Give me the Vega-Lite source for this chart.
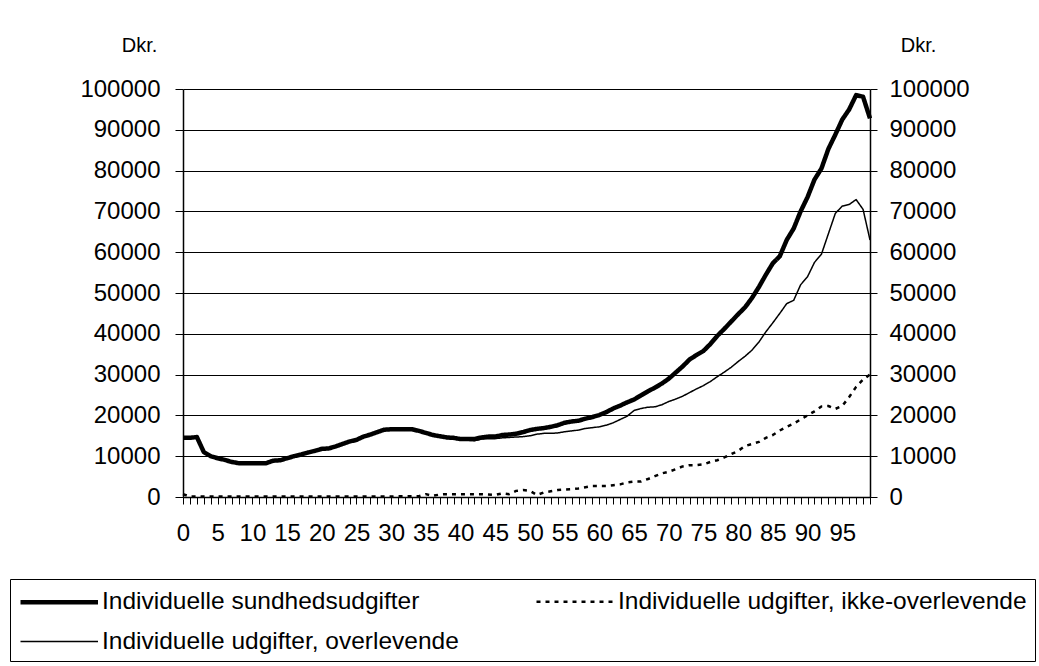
{
"$schema": "https://vega.github.io/schema/vega-lite/v6.json",
"width": 687, "height": 408,
"autosize": "none",
"padding": {"left": 183, "top": 89, "right": 169, "bottom": 169},
"background": "white",
"config": {"view": {"stroke": null}, "font": "Liberation Sans", "axis": {"domainColor": "black", "tickColor": "black", "labelColor": "black", "titleColor": "black", "domainWidth": 1.5, "tickWidth": 1},
"legend": {"title": null, "orient": "none", "legendX": -173, "legendY": 490, "direction": "horizontal", "columns": 2, "gridAlign": "each", "columnPadding": 72, "rowPadding": 14, "symbolType": "M-1,0H5.2", "symbolSize": 625, "symbolStrokeColor": "black", "labelOffset": 54, "labelFontSize": 24.5, "labelColor": "black", "labelLimit": 0, "strokeColor": "black", "padding": 8}},
"data": {"values": [
{"age":0,"total":14500,"surv":14400,"nonsurv":700},
{"age":1,"total":14500,"surv":14500,"nonsurv":100},
{"age":2,"total":14700,"surv":14700,"nonsurv":100},
{"age":3,"total":11000,"surv":11000,"nonsurv":100},
{"age":4,"total":10000,"surv":10000,"nonsurv":100},
{"age":5,"total":9500,"surv":9500,"nonsurv":100},
{"age":6,"total":9100,"surv":9100,"nonsurv":100},
{"age":7,"total":8600,"surv":8600,"nonsurv":100},
{"age":8,"total":8300,"surv":8300,"nonsurv":100},
{"age":9,"total":8300,"surv":8300,"nonsurv":100},
{"age":10,"total":8300,"surv":8300,"nonsurv":100},
{"age":11,"total":8300,"surv":8300,"nonsurv":100},
{"age":12,"total":8300,"surv":8300,"nonsurv":100},
{"age":13,"total":8900,"surv":8900,"nonsurv":100},
{"age":14,"total":9000,"surv":9000,"nonsurv":100},
{"age":15,"total":9500,"surv":9500,"nonsurv":100},
{"age":16,"total":10000,"surv":10000,"nonsurv":100},
{"age":17,"total":10400,"surv":10400,"nonsurv":100},
{"age":18,"total":10900,"surv":10900,"nonsurv":100},
{"age":19,"total":11300,"surv":11300,"nonsurv":100},
{"age":20,"total":11800,"surv":11800,"nonsurv":100},
{"age":21,"total":11900,"surv":11900,"nonsurv":100},
{"age":22,"total":12400,"surv":12400,"nonsurv":100},
{"age":23,"total":13000,"surv":13000,"nonsurv":100},
{"age":24,"total":13600,"surv":13600,"nonsurv":100},
{"age":25,"total":14000,"surv":14000,"nonsurv":100},
{"age":26,"total":14800,"surv":14800,"nonsurv":100},
{"age":27,"total":15300,"surv":15300,"nonsurv":100},
{"age":28,"total":15900,"surv":15900,"nonsurv":100},
{"age":29,"total":16500,"surv":16500,"nonsurv":100},
{"age":30,"total":16600,"surv":16600,"nonsurv":100},
{"age":31,"total":16600,"surv":16600,"nonsurv":200},
{"age":32,"total":16600,"surv":16600,"nonsurv":200},
{"age":33,"total":16600,"surv":16500,"nonsurv":200},
{"age":34,"total":16200,"surv":16100,"nonsurv":200},
{"age":35,"total":15700,"surv":15600,"nonsurv":700},
{"age":36,"total":15200,"surv":15100,"nonsurv":300},
{"age":37,"total":14900,"surv":14700,"nonsurv":600},
{"age":38,"total":14600,"surv":14400,"nonsurv":700},
{"age":39,"total":14500,"surv":14200,"nonsurv":700},
{"age":40,"total":14200,"surv":14000,"nonsurv":700},
{"age":41,"total":14200,"surv":13900,"nonsurv":700},
{"age":42,"total":14200,"surv":13800,"nonsurv":700},
{"age":43,"total":14600,"surv":14200,"nonsurv":700},
{"age":44,"total":14800,"surv":14300,"nonsurv":600},
{"age":45,"total":14800,"surv":14300,"nonsurv":500},
{"age":46,"total":15200,"surv":14500,"nonsurv":900},
{"age":47,"total":15300,"surv":14600,"nonsurv":700},
{"age":48,"total":15500,"surv":14700,"nonsurv":1500},
{"age":49,"total":15900,"surv":14800,"nonsurv":1700},
{"age":50,"total":16400,"surv":15000,"nonsurv":1500},
{"age":51,"total":16700,"surv":15400,"nonsurv":500},
{"age":52,"total":16900,"surv":15600,"nonsurv":1100},
{"age":53,"total":17200,"surv":15600,"nonsurv":1400},
{"age":54,"total":17600,"surv":15700,"nonsurv":1700},
{"age":55,"total":18200,"surv":16000,"nonsurv":1800},
{"age":56,"total":18500,"surv":16200,"nonsurv":1900},
{"age":57,"total":18700,"surv":16400,"nonsurv":2100},
{"age":58,"total":19200,"surv":16800,"nonsurv":2400},
{"age":59,"total":19600,"surv":17000,"nonsurv":2700},
{"age":60,"total":20100,"surv":17200,"nonsurv":2700},
{"age":61,"total":20800,"surv":17600,"nonsurv":2700},
{"age":62,"total":21700,"surv":18200,"nonsurv":2900},
{"age":63,"total":22400,"surv":19000,"nonsurv":3100},
{"age":64,"total":23200,"surv":19800,"nonsurv":3600},
{"age":65,"total":23900,"surv":21200,"nonsurv":3800},
{"age":66,"total":24900,"surv":21700,"nonsurv":3800},
{"age":67,"total":25900,"surv":22000,"nonsurv":4400},
{"age":68,"total":26800,"surv":22100,"nonsurv":5100},
{"age":69,"total":27800,"surv":22600,"nonsurv":5800},
{"age":70,"total":29000,"surv":23400,"nonsurv":6200},
{"age":71,"total":30500,"surv":24000,"nonsurv":6800},
{"age":72,"total":32000,"surv":24700,"nonsurv":7500},
{"age":73,"total":33700,"surv":25600,"nonsurv":7800},
{"age":74,"total":34800,"surv":26500,"nonsurv":7800},
{"age":75,"total":35800,"surv":27300,"nonsurv":8000},
{"age":76,"total":37500,"surv":28300,"nonsurv":8600},
{"age":77,"total":39500,"surv":29500,"nonsurv":9000},
{"age":78,"total":41200,"surv":30600,"nonsurv":9700},
{"age":79,"total":43000,"surv":31800,"nonsurv":10500},
{"age":80,"total":44800,"surv":33200,"nonsurv":11300},
{"age":81,"total":46500,"surv":34500,"nonsurv":12500},
{"age":82,"total":48800,"surv":36000,"nonsurv":13000},
{"age":83,"total":51500,"surv":38000,"nonsurv":13500},
{"age":84,"total":54500,"surv":40500,"nonsurv":14500},
{"age":85,"total":57300,"surv":42700,"nonsurv":15200},
{"age":86,"total":59000,"surv":45000,"nonsurv":16300},
{"age":87,"total":63000,"surv":47400,"nonsurv":17200},
{"age":88,"total":65800,"surv":48200,"nonsurv":18000},
{"age":89,"total":70000,"surv":52000,"nonsurv":19000},
{"age":90,"total":73500,"surv":54000,"nonsurv":20000},
{"age":91,"total":77800,"surv":57500,"nonsurv":21000},
{"age":92,"total":80500,"surv":59500,"nonsurv":22200},
{"age":93,"total":85300,"surv":64500,"nonsurv":22300},
{"age":94,"total":88800,"surv":69500,"nonsurv":21600},
{"age":95,"total":92500,"surv":71300,"nonsurv":22300},
{"age":96,"total":95000,"surv":71700,"nonsurv":24500},
{"age":97,"total":98500,"surv":72900,"nonsurv":27000},
{"age":98,"total":98100,"surv":70500,"nonsurv":28800},
{"age":99,"total":92800,"surv":63000,"nonsurv":30000}
]},
"transform": [{"fold": ["total", "nonsurv", "surv"], "as": ["series", "value"]}],
"layer": [
{
"transform": [{"filter": "datum.series !== 'nonsurv'"}],
"mark": {"type": "line", "color": "black", "strokeJoin": "round", "strokeCap": "butt"},
"encoding": {
"x": {"field": "age", "type": "quantitative", "scale": {"domain": [0, 99], "nice": false, "zero": false},
"axis": {"values": [0,1,2,3,4,5,6,7,8,9,10,11,12,13,14,15,16,17,18,19,20,21,22,23,24,25,26,27,28,29,30,31,32,33,34,35,36,37,38,39,40,41,42,43,44,45,46,47,48,49,50,51,52,53,54,55,56,57,58,59,60,61,62,63,64,65,66,67,68,69,70,71,72,73,74,75,76,77,78,79,80,81,82,83,84,85,86,87,88,89,90,91,92,93,94,95,96,97,98,99], "format": "d", "labelExpr": "datum.value % 5 === 0 ? datum.label : ''", "grid": false, "tickSize": 7, "labelPadding": 17, "labelFontSize": 24, "labelOverlap": false, "labelFlush": false, "labelBound": false, "title": null}},
"y": {"field": "value", "type": "quantitative", "scale": {"domain": [0, 100000], "nice": false},
"axis": {"orient": "left", "values": [0,10000,20000,30000,40000,50000,60000,70000,80000,90000,100000], "format": "d", "grid": true, "gridColor": "black", "gridWidth": 1, "tickSize": 8, "labelPadding": 15, "labelFontSize": 24, "title": "Dkr.", "titleAngle": 0, "titleAlign": "center", "titleBaseline": "middle", "titleX": -44, "titleY": -44, "titleFontSize": 20, "titleFontWeight": "normal"}},
"strokeDash": {"field": "series", "type": "nominal", "scale": {"domain": ["total", "nonsurv", "surv"], "range": [[1, 0], [4, 5], [1, 0]]},
"legend": {"labelExpr": "datum.value === 'total' ? 'Individuelle sundhedsudgifter' : datum.value === 'nonsurv' ? 'Individuelle udgifter, ikke-overlevende' : 'Individuelle udgifter, overlevende'"}},
"strokeWidth": {"field": "series", "type": "nominal", "scale": {"type": "ordinal", "domain": ["total", "nonsurv", "surv"], "range": [4.5, 2.5, 1.5]},
"legend": {"labelExpr": "datum.value === 'total' ? 'Individuelle sundhedsudgifter' : datum.value === 'nonsurv' ? 'Individuelle udgifter, ikke-overlevende' : 'Individuelle udgifter, overlevende'"}}
}
},
{
"transform": [{"filter": "datum.series === 'nonsurv'"}],
"mark": {"type": "line", "color": "black", "strokeJoin": "round", "strokeCap": "butt"},
"encoding": {
"x": {"field": "age", "type": "quantitative", "scale": {"domain": [0, 99], "nice": false, "zero": false},
"axis": {"values": [0,1,2,3,4,5,6,7,8,9,10,11,12,13,14,15,16,17,18,19,20,21,22,23,24,25,26,27,28,29,30,31,32,33,34,35,36,37,38,39,40,41,42,43,44,45,46,47,48,49,50,51,52,53,54,55,56,57,58,59,60,61,62,63,64,65,66,67,68,69,70,71,72,73,74,75,76,77,78,79,80,81,82,83,84,85,86,87,88,89,90,91,92,93,94,95,96,97,98,99], "format": "d", "labelExpr": "datum.value % 5 === 0 ? datum.label : ''", "grid": false, "tickSize": 7, "labelPadding": 17, "labelFontSize": 24, "labelOverlap": false, "labelFlush": false, "labelBound": false, "title": null}},
"y": {"field": "value", "type": "quantitative", "scale": {"domain": [0, 100000], "nice": false},
"axis": {"orient": "right", "values": [0,10000,20000,30000,40000,50000,60000,70000,80000,90000,100000], "format": "d", "grid": false, "tickSize": 7, "labelPadding": 12, "labelFontSize": 24, "title": "Dkr.", "titleAngle": 0, "titleAlign": "center", "titleBaseline": "middle", "titleX": 48, "titleY": -44, "titleFontSize": 20, "titleFontWeight": "normal"}},
"strokeDash": {"field": "series", "type": "nominal", "scale": {"domain": ["total", "nonsurv", "surv"], "range": [[1, 0], [4, 5], [1, 0]]},
"legend": {"labelExpr": "datum.value === 'total' ? 'Individuelle sundhedsudgifter' : datum.value === 'nonsurv' ? 'Individuelle udgifter, ikke-overlevende' : 'Individuelle udgifter, overlevende'"}},
"strokeWidth": {"field": "series", "type": "nominal", "scale": {"type": "ordinal", "domain": ["total", "nonsurv", "surv"], "range": [4.5, 2.5, 1.5]},
"legend": {"labelExpr": "datum.value === 'total' ? 'Individuelle sundhedsudgifter' : datum.value === 'nonsurv' ? 'Individuelle udgifter, ikke-overlevende' : 'Individuelle udgifter, overlevende'"}}
}
}
],
"resolve": {"axis": {"y": "independent"}}
}
